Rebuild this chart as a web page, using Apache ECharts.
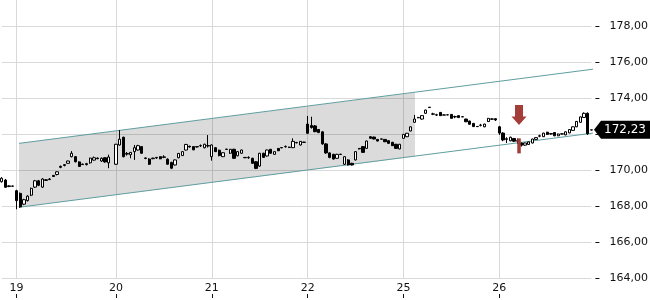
<!DOCTYPE html>
<html>
<head>
<meta charset="utf-8">
<script src="https://cdn.jsdelivr.net/npm/echarts@6/dist/echarts.min.js"></script>
<style>
html,body{margin:0;padding:0;background:#fff;}
#chart{width:650px;height:300px;}
</style>
</head>
<body>
<div id="chart"></div>
<script>
// ---- data ----
const dayLabels = ['', '19', '20', '21', '22', '25', '26'];
const candlesPerDay = [4, 27, 26, 26, 26, 26, 26];
// [open, close, low, high]
const ohlc = [
[169.35,169.54,169.30,169.60],[169.44,169.04,169.00,169.50],[169.08,169.12,169.05,169.15],[169.11,169.10,169.08,169.13],
[168.85,168.30,167.82,168.90],[168.70,167.95,167.90,168.75],[168.10,168.35,168.05,168.40],[168.30,168.55,168.25,168.60],
[168.60,168.98,168.55,169.02],[169.05,169.40,169.00,169.45],[169.40,169.15,169.10,169.45],[169.05,169.50,169.00,169.55],
[169.42,169.46,169.40,169.50],[169.47,169.50,169.44,169.55],[169.70,169.64,169.62,169.72],[169.75,169.90,169.70,169.93],
[170.20,170.15,170.10,170.25],[170.25,170.30,170.20,170.33],[170.37,170.50,170.35,170.52],[170.74,170.93,170.70,171.05],
[170.74,170.46,170.42,170.78],[170.45,170.20,170.18,170.48],[170.30,170.33,170.28,170.35],[170.35,170.30,170.25,170.40],
[170.40,170.66,170.35,170.68],[170.55,170.68,170.52,170.75],[170.66,170.63,170.60,170.70],[170.50,170.65,170.45,170.70],
[170.68,170.45,170.40,170.70],[170.40,170.72,170.10,170.85],'-',
[170.32,171.43,170.28,171.45],[171.39,171.71,171.35,172.22],[171.82,170.74,170.70,171.85],[170.88,170.92,170.80,171.00],
[170.85,170.98,170.65,171.00],[171.02,171.24,170.56,171.39],[171.11,171.35,171.08,171.40],[171.30,170.93,170.90,171.32],
[170.67,170.64,170.60,170.70],[170.61,170.32,170.28,170.65],[170.63,170.66,170.60,170.68],[170.67,170.70,170.62,170.72],
[170.74,170.62,170.60,170.76],[170.70,170.73,170.66,170.82],[170.60,170.32,170.30,170.65],[170.42,170.10,170.05,170.46],
[170.28,170.56,170.25,170.58],[170.68,170.92,170.65,170.95],[170.80,171.02,170.78,171.05],[171.11,171.42,171.08,171.45],
[171.32,171.28,171.25,171.35],[171.30,171.12,171.10,171.33],[171.28,171.30,171.25,171.33],[171.34,171.36,171.28,171.42],
[171.24,171.43,171.20,171.46],[171.33,171.36,171.25,171.94],
[170.74,171.39,170.52,171.42],[171.24,171.02,171.00,171.27],[171.10,170.80,170.76,171.13],[170.74,170.96,170.72,170.98],
[171.14,171.16,171.12,171.18],[170.93,171.15,170.90,171.17],[171.15,170.65,170.62,171.18],[170.79,171.02,170.76,171.04],
[170.93,171.11,170.90,171.13],[170.70,170.68,170.66,170.72],[170.68,170.70,170.62,170.76],[170.65,170.37,170.35,170.68],
[170.46,170.09,170.05,170.48],[170.22,170.93,170.18,170.95],[170.93,170.70,170.68,170.96],[170.78,171.11,170.75,171.13],
[171.15,170.93,170.90,171.17],[170.87,171.02,170.85,171.04],[171.20,171.07,171.05,171.22],[171.23,171.25,171.21,171.27],
[171.29,171.31,171.24,171.36],[171.27,171.25,171.22,171.29],[171.24,171.59,171.22,171.76],[171.51,171.53,171.48,171.56],
[171.39,171.59,171.36,171.61],[171.53,171.55,171.50,171.57],
[172.55,172.04,172.00,173.00],[172.47,172.36,172.30,172.96],[172.45,172.13,172.10,172.50],[172.25,172.08,172.05,172.28],
[172.12,171.45,171.40,172.15],[171.45,170.95,170.90,171.50],[170.95,170.70,170.65,170.98],[170.87,170.61,170.58,170.90],
[170.65,170.87,170.62,170.90],[170.86,170.88,170.84,170.90],[170.32,170.74,170.28,170.76],[170.56,170.28,170.25,170.60],
[170.37,170.28,170.25,170.40],[170.56,171.02,170.53,171.04],[171.17,171.20,171.14,171.22],[171.30,170.98,170.95,171.32],
[171.20,171.61,171.18,171.63],[171.85,171.76,171.74,171.87],[171.83,171.72,171.70,171.85],[171.70,171.61,171.59,171.72],
[171.71,171.73,171.70,171.74],[171.70,171.57,171.55,171.72],[171.63,171.48,171.46,171.65],[171.54,171.35,171.33,171.56],
[171.43,171.20,171.18,171.45],[171.17,171.43,171.15,171.45],
[171.76,171.98,171.74,172.00],[171.85,172.04,171.83,172.06],[172.17,172.40,172.15,172.42],[172.65,172.83,172.63,173.06],
[172.90,172.92,172.88,172.95],[172.83,173.02,172.80,173.04],[173.15,173.33,173.13,173.35],[173.47,173.49,173.46,173.50],
[173.10,173.12,173.05,173.18],[173.05,173.07,173.00,173.12],[173.20,173.02,173.00,173.22],[173.06,173.05,173.04,173.08],
[173.06,173.07,173.04,173.08],[173.09,172.87,172.85,173.11],[172.95,172.97,172.88,173.02],[173.02,172.91,172.89,173.04],
[172.96,172.95,172.94,172.98],[172.83,172.68,172.66,172.85],[172.72,172.54,172.52,172.74],[172.59,172.41,172.39,172.61],
[172.41,172.42,172.39,172.44],[172.48,172.50,172.42,172.56],[172.40,172.55,172.38,172.57],[172.69,172.87,172.67,172.89],
[172.82,172.84,172.78,172.88],[172.85,172.78,172.72,172.87],
[172.40,172.05,171.95,172.45],[172.05,171.67,171.60,172.10],[171.70,171.74,171.50,171.82],[171.62,171.82,171.60,171.85],
[171.75,171.60,171.55,171.78],[171.60,171.63,171.45,171.75],[171.50,171.38,171.30,171.52],[171.38,171.50,171.35,171.52],
[171.42,171.56,171.40,171.58],[171.50,171.72,171.48,171.74],[171.70,171.80,171.68,171.82],[171.88,171.90,171.82,171.96],
[171.85,172.05,171.83,172.07],[172.10,171.98,171.95,172.12],[172.02,172.00,171.97,172.05],[172.08,171.90,171.88,172.10],
[171.90,172.00,171.88,172.02],[172.00,172.01,171.98,172.03],[171.95,172.12,171.93,172.14],[172.06,172.25,172.04,172.27],
[172.20,172.40,172.18,172.42],[172.40,172.70,172.38,172.72],[172.65,172.95,172.63,172.97],[172.92,173.15,172.90,173.20],
[173.15,172.02,171.95,173.20],[172.22,172.23,172.21,172.24]
];
const channelUpper = [[4.68, 171.48], [161.2, 175.62]];
const channelLower = [[4.68, 167.93], [161.2, 172.07]];
const shadePolygon = [[4.68, 167.93], [4.68, 171.48], [112.14, 174.30], [112.14, 170.75]];
const signalArrow = [[140.36, 173.06]];
const signalBar = [[140.36, 171.34]];
const lastPrice = 172.23;
const yTicks = {min: 164, max: 180, interval: 2};

// ---- build categories ----
const categories = [];
const dayStart = {};
candlesPerDay.forEach((n, d) => {
  for (let j = 0; j < n; j++) {
    if (j === 0 && dayLabels[d]) dayStart[categories.length] = dayLabels[d];
    categories.push(dayLabels[d] + '#' + j + '_' + d);
  }
});
const isDayStart = (i) => dayStart[i] !== undefined;
const fmt = (v) => v.toFixed(2).replace('.', ',');
const lastIndex = categories.length - 1;
const FONT = 'DejaVu Sans';

const chart = echarts.init(document.getElementById('chart'), null, {renderer: 'canvas'});
chart.setOption({
  animation: false,
  backgroundColor: '#fff',
  grid: {left: 1.76, right: 58.6, top: -10, bottom: 22, outerBoundsMode: 'none', containLabel: false},
  xAxis: [
    {
      type: 'category', data: categories, boundaryGap: false,
      axisLine: {show: false, onZero: false}, axisTick: {show: false},
      axisLabel: {interval: (i) => isDayStart(i), formatter: (v, i) => dayStart[i] || '',
                  margin: 5, fontSize: 11, fontFamily: FONT, color: '#111'},
      splitLine: {show: true, interval: (i) => isDayStart(i), lineStyle: {color: '#d9d9d9', width: 1}}
    },
    {
      type: 'category', data: categories, boundaryGap: false, position: 'bottom', offset: 16,
      axisLine: {show: false, onZero: false},
      axisTick: {show: true, interval: (i) => isDayStart(i), length: 4, lineStyle: {color: '#111'}},
      axisLabel: {show: false}, splitLine: {show: false}
    },
    {type: 'value', min: 0, max: lastIndex, show: false, axisLine: {onZero: false}}
  ],
  yAxis: {
    type: 'value', position: 'right', min: yTicks.min, max: yTicks.max, interval: yTicks.interval,
    offset: 4,
    axisLine: {show: false, onZero: false},
    axisTick: {show: true, length: 4, lineStyle: {color: '#111'}},
    axisLabel: {margin: 14, fontSize: 11, fontFamily: FONT, color: '#111', formatter: fmt},
    splitLine: {show: true, lineStyle: {color: '#d9d9d9', width: 1}}
  },
  series: [
    {
      type: 'custom', xAxisIndex: 2, data: [0], z: 1, silent: true, clip: false,
      renderItem: (params, api) => ({
        type: 'polygon',
        shape: {points: shadePolygon.map(p => api.coord(p))},
        style: {fill: 'rgba(0,0,0,0.14)'}
      })
    },
    {type: 'line', xAxisIndex: 2, data: channelUpper, symbol: 'none', clip: false, z: 3,
     lineStyle: {color: '#5f9ea0', width: 1}},
    {type: 'line', xAxisIndex: 2, data: channelLower, symbol: 'none', clip: false, z: 3,
     lineStyle: {color: '#5f9ea0', width: 1}},
    {
      type: 'candlestick', xAxisIndex: 0, data: ohlc, barWidth: 2.8, z: 5, clip: false,
      itemStyle: {color: '#ffffff', color0: '#000000', borderColor: '#000000', borderColor0: '#000000', borderWidth: 1}
    },
    {type: 'scatter', xAxisIndex: 2, data: signalArrow, z: 6, clip: false,
     symbol: 'path://M3.5,0 L11.5,0 L11.5,11.5 L15,11.5 L7.5,20 L0,11.5 L3.5,11.5 Z',
     symbolSize: [15, 20], symbolKeepAspect: false, itemStyle: {color: '#a33d38', opacity: 1}},
    {type: 'scatter', xAxisIndex: 2, data: signalBar, z: 6, clip: false,
     symbol: 'rect', symbolSize: [3.5, 15], itemStyle: {color: '#a33d38', opacity: 1}},
    {type: 'scatter', xAxisIndex: 2, data: [[lastIndex, lastPrice]], z: 10, clip: false,
     symbol: 'path://M0,9 L7,0 L56,0 L56,18 L7,18 Z', symbolSize: [56, 18], symbolKeepAspect: false,
     symbolOffset: [30.6, 0], itemStyle: {color: '#000', opacity: 1},
     label: {show: true, position: 'inside', offset: [3, 0], formatter: () => fmt(lastPrice),
             color: '#fff', fontSize: 12, fontFamily: FONT}}
  ]
});
</script>
</body>
</html>
